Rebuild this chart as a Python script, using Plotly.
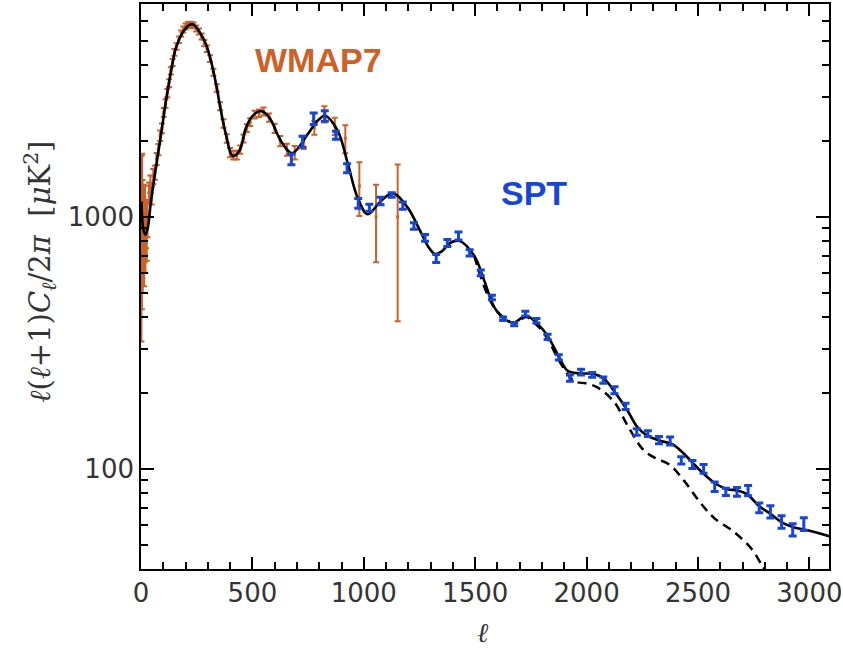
import plotly.graph_objects as go

# ---------------- data ----------------
theory_l = [2, 10, 20, 30, 45, 67, 90, 112, 135, 157, 187, 217, 235, 269, 292, 314, 337, 359,
            381, 411, 441, 471, 501, 540, 576, 628, 678, 748, 785, 825, 883, 928, 972, 1017,
            1077, 1132, 1197, 1250, 1290, 1320, 1350, 1391, 1429, 1496, 1541, 1586, 1631, 1676,
            1728, 1781, 1825, 1877, 1915, 1967, 2035, 2080, 2124, 2184, 2229, 2274, 2334, 2386,
            2431, 2483, 2528, 2581, 2633, 2678, 2723, 2775, 2828, 2880, 2932, 2992, 3089, 3100]
theory_dl = [1150, 900, 850, 900, 1157, 1569, 2127, 2884, 3796, 4696, 5386, 5780, 5800, 5310,
             4840, 4160, 3360, 2630, 2127, 1745, 1827, 2261, 2518, 2630, 2480, 2001, 1790, 2127,
             2366, 2520, 2195, 1630, 1193, 1025, 1157, 1240, 1088, 890, 760, 712, 730, 791, 803,
             700, 557, 437, 393, 381, 405, 375, 337, 277, 245, 239, 238, 227, 203, 170, 146, 135,
             129, 125, 116, 104, 95, 87, 83, 82, 79, 71, 66, 61, 58.5, 57, 54, 53.6]

dashed_l = [1496, 1586, 1676, 1728, 1781, 1825, 1877, 1944, 2000, 2050, 2124, 2181, 2254, 2310,
            2371, 2439, 2506, 2573, 2663, 2741, 2790, 2815]
dashed_dl = [700, 436, 378, 400, 368, 328, 268, 223, 218, 210, 184, 150, 119, 110, 104, 89.3,
             74.2, 63.7, 56, 48, 41, 38]

wmap_l = [2, 3, 4, 5, 6, 7, 8, 10, 12, 14, 16, 18, 20, 23, 26, 29,
          36, 42, 48, 55, 62, 70, 78, 86, 94, 102, 110, 118, 126, 134, 142, 150, 160, 170, 180,
          190, 200, 212, 224, 236, 248, 260, 272, 284, 296, 310, 325, 340, 355, 370, 385, 400,
          415, 430, 445, 460, 475, 490, 510, 530, 550, 575, 600, 625, 655, 690, 730, 778, 823,
          870, 917, 980, 1055, 1152]
wmap_dl = [700, 1150, 850, 1300, 950, 1050, 800, 900, 1050, 780, 900, 1100, 800, 950, 850, 1000,
           1250, 1350, 1220, 1450, 1500, 1700, 1850, 2100, 2250, 2600, 2820, 3100, 3400, 3800,
           4100, 4500, 4750, 5050, 5350, 5550, 5700, 5780, 5800, 5760, 5600, 5450, 5200, 4900,
           4650, 4250, 3750, 3250, 2750, 2350, 2050, 1800, 1760, 1760, 1850, 2050, 2250, 2380,
           2550, 2580, 2620, 2480, 2250, 2000, 1850, 1800, 1980, 2260, 2560, 2296, 2050, 1327,
           1000, 1000]
wmap_err = [380, 600, 420, 480, 380, 350, 300, 300, 290, 250, 240, 230, 200, 200, 180, 170,
            120, 110, 100, 100, 95, 95, 95, 100, 100, 105, 110, 115, 120, 125, 130, 135, 140,
            145, 150, 155, 155, 155, 155, 155, 150, 150, 145, 140, 135, 130, 120, 110, 100, 90,
            80, 75, 70, 70, 70, 75, 80, 85, 90, 90, 95, 95, 95, 95, 100, 110, 120, 140, 190,
            180, 260, 320, 340, 615]

spt_l = [675, 725, 775, 825, 875, 925, 975, 1025, 1075, 1125, 1175, 1225, 1275, 1325, 1375,
         1425, 1475, 1525, 1575, 1625, 1675, 1725, 1775, 1825, 1875, 1925, 1975, 2025, 2075,
         2125, 2175, 2225, 2275, 2325, 2375, 2425, 2475, 2525, 2575, 2625, 2675, 2725, 2775,
         2825, 2875, 2925, 2975]
spt_dl = [1694, 1991, 2455, 2518, 2110, 1560, 1133, 1088, 1157, 1222, 1109, 921, 826, 684, 788,
          840, 720, 600, 479, 394, 375, 413, 387, 334, 277, 229, 242, 236, 225, 205, 177, 140,
          138, 130, 129, 108, 104, 100, 85, 81, 81, 82, 70, 67.5, 61.6, 57.3, 60.4]
spt_err = [82, 100, 127, 119, 77, 64, 50, 35, 40, 26, 37, 27, 26, 25, 26, 31, 21, 15.6, 10,
           6.6, 5.7, 8.8, 8.2, 8.1, 6.7, 6.6, 6.3, 5, 6.5, 6.6, 5.1, 4.1, 3.6, 4.2, 4.7, 3.5,
           3.8, 4.0, 3.7, 2.6, 3.2, 3.8, 3.1, 3.8, 3.5, 3.2, 3.5]

x_ticks = [0, 500, 1000, 1500, 2000, 2500, 3000]
x_minor = [100, 200, 300, 400, 600, 700, 800, 900, 1100, 1200, 1300, 1400, 1600, 1700, 1800,
           1900, 2100, 2200, 2300, 2400, 2600, 2700, 2800, 2900]
y_ticks = [100, 1000]
y_minor = [40, 50, 60, 70, 80, 90, 200, 300, 400, 500, 600, 700, 800, 900,
           2000, 3000, 4000, 5000, 6000]

X_RANGE = [0, 3088]
Y_RANGE = [1.60206, 3.845098]

ORANGE = "rgb(204,98,40)"
BLUE = "rgb(22,70,212)"

fig = go.Figure()

fig.add_trace(go.Scatter(
    x=wmap_l, y=wmap_dl, mode="markers",
    marker=dict(size=3, color=ORANGE, symbol="square"),
    error_y=dict(type="data", array=wmap_err, color=ORANGE, thickness=2, width=3),
    showlegend=False, hoverinfo="skip"))

fig.add_trace(go.Scatter(
    x=dashed_l, y=dashed_dl, mode="lines",
    line=dict(color="black", width=2.5, dash="9px,6px", shape="spline", smoothing=1),
    showlegend=False, hoverinfo="skip"))

fig.add_trace(go.Scatter(
    x=theory_l, y=theory_dl, mode="lines",
    line=dict(color="black", width=2.6, shape="spline", smoothing=1),
    showlegend=False, hoverinfo="skip"))

fig.add_trace(go.Scatter(
    x=spt_l, y=spt_dl, mode="markers",
    marker=dict(size=2, color=BLUE),
    error_y=dict(type="data", array=spt_err, color=BLUE, thickness=3, width=4),
    showlegend=False, hoverinfo="skip"))

# invisible trace to anchor the mirrored (top / right) tick axes
fig.add_trace(go.Scatter(x=[spt_l[0]], y=[spt_dl[0]], mode="markers", marker=dict(opacity=0),
                         xaxis="x2", yaxis="y2", showlegend=False, hoverinfo="skip"))

TICKFONT = dict(family="DejaVu Sans, sans-serif", size=26, color="#333333")
common = dict(ticks="inside", tickwidth=1.5, tickcolor="black", showline=True, linecolor="black",
              linewidth=1.6, showgrid=False, zeroline=False, automargin=False)
xminor = dict(tickmode="array", tickvals=x_minor, ticks="inside", ticklen=7, tickwidth=1.5,
              tickcolor="black", showgrid=False)
yminor = dict(tickmode="array", tickvals=y_minor, ticks="inside", ticklen=7, tickwidth=1.5,
              tickcolor="black", showgrid=False)

fig.update_layout(
    xaxis=dict(range=X_RANGE, tickmode="array", tickvals=x_ticks, ticklen=12, tickfont=TICKFONT,
               minor=xminor, mirror="allticks", **common),
    yaxis=dict(type="log", range=Y_RANGE, tickmode="array", tickvals=y_ticks, ticktext=["100", "1000"],
               ticklen=13, tickfont=TICKFONT, minor=yminor, mirror="allticks", **common),
    xaxis2=dict(range=X_RANGE, overlaying="x", side="top", anchor="y2", tickmode="array", tickvals=x_ticks,
                ticklen=12, showticklabels=False, minor=xminor, **common),
    yaxis2=dict(type="log", range=Y_RANGE, overlaying="y", side="right", anchor="x2", tickmode="array",
                tickvals=y_ticks, ticklen=13, showticklabels=False, minor=yminor, **common),
)

fig.add_annotation(text="WMAP7", x=503, y=3.623, xref="x", yref="y", xanchor="left", yanchor="middle",
                   showarrow=False, font=dict(family="Liberation Sans, Arial, sans-serif", size=34, color=ORANGE, weight="bold"))
fig.add_annotation(text="SPT", x=1607, y=3.095, xref="x", yref="y", xanchor="left", yanchor="middle",
                   showarrow=False, font=dict(family="Liberation Sans, Arial, sans-serif", size=34, color=BLUE, weight="bold"))

fig.add_annotation(text="<i>ℓ</i>", x=0.497, y=-0.113, xref="paper", yref="paper",
                   xanchor="center", yanchor="middle", showarrow=False,
                   font=dict(family="DejaVu Serif, serif", size=27, color="#333333"))
fig.add_annotation(text="<i>ℓ</i>(<i>ℓ</i>+1)<i>C</i><sub><i>ℓ</i></sub>/2<i>π</i>  [<i>μ</i>K<sup>2</sup>]",
                   x=-0.147, y=0.526, xref="paper", yref="paper", textangle=-90,
                   xanchor="center", yanchor="middle", showarrow=False,
                   font=dict(family="DejaVu Serif, serif", size=29, color="#333333"))

fig.update_layout(
    width=843, height=650, autosize=False,
    margin=dict(l=141, r=14, t=4, b=81, autoexpand=False),
    paper_bgcolor="white", plot_bgcolor="white",
)

fig.write_html("out.html", config={"displayModeBar": False, "responsive": False},
               post_script="document.body.style.margin='0px';")
